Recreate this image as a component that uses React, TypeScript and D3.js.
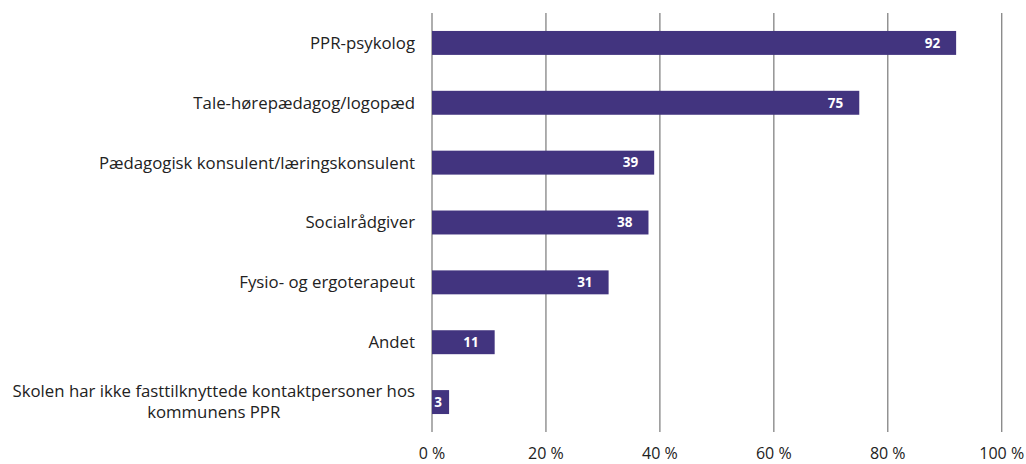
import React, { useEffect, useRef } from "react";
import * as d3 from "d3";

const categories: string[][] = [
  ["PPR-psykolog"],
  ["Tale-hørepædagog/logopæd"],
  ["Pædagogisk konsulent/læringskonsulent"],
  ["Socialrådgiver"],
  ["Fysio- og ergoterapeut"],
  ["Andet"],
  ["Skolen har ikke fasttilknyttede kontaktpersoner hos", "kommunens PPR"],
];
const values: number[] = [92, 75, 39, 38, 31, 11, 3];
const ticks: number[] = [0, 20, 40, 60, 80, 100];

const W = 1026;
const H = 464;
const FONT = "'Open Sans', sans-serif";

export default function App() {
  const ref = useRef<SVGSVGElement | null>(null);

  useEffect(() => {
    const svg = d3.select(ref.current);
    svg.selectAll("*").remove();

    const x = d3.scaleLinear().domain([0, 100]).range([432, 1001.7]);
    const y = d3
      .scaleBand<number>()
      .domain(d3.range(categories.length))
      .range([13, 432])
      .paddingInner(0.6)
      .paddingOuter(0.3);

    svg
      .append("g")
      .selectAll("line")
      .data(ticks)
      .join("line")
      .attr("x1", (d) => x(d))
      .attr("x2", (d) => x(d))
      .attr("y1", 13)
      .attr("y2", 432)
      .attr("stroke", "#8c8c8c")
      .attr("stroke-width", 1.4);

    svg
      .append("g")
      .selectAll("text")
      .data(ticks)
      .join("text")
      .attr("x", (d) => x(d))
      .attr("y", 459)
      .attr("text-anchor", "middle")
      .attr("font-family", FONT)
      .attr("font-size", 16)
      .attr("fill", "#222")
      .text((d) => `${d} %`);

    svg
      .append("g")
      .selectAll("rect")
      .data(values)
      .join("rect")
      .attr("x", x(0))
      .attr("y", (_, i) => y(i)!)
      .attr("width", (d) => x(d) - x(0))
      .attr("height", y.bandwidth())
      .attr("fill", "#42347f");

    svg
      .append("g")
      .selectAll("text")
      .data(values)
      .join("text")
      .attr("x", (d) => Math.max(x(d) - 16, x(0) + 10))
      .attr("y", (_, i) => y(i)! + y.bandwidth() / 2)
      .attr("dy", "0.35em")
      .attr("text-anchor", "end")
      .attr("font-family", FONT)
      .attr("font-size", 13.5)
      .attr("font-weight", "bold")
      .attr("fill", "#fff")
      .text((d) => d);

    const labelRight = 415;
    const gCat = svg.append("g");
    categories.forEach((lines, i) => {
      const cy = y(i)! + y.bandwidth() / 2;
      if (lines.length === 1) {
        gCat
          .append("text")
          .attr("x", labelRight)
          .attr("y", cy)
          .attr("dy", "0.35em")
          .attr("text-anchor", "end")
          .attr("font-family", FONT)
          .attr("font-size", 16.8)
          .attr("fill", "#222")
          .text(lines[0]);
      } else {
        const lh = 21;
        const texts = lines.map((l, k) =>
          gCat
            .append("text")
            .attr("y", cy + (k - (lines.length - 1) / 2) * lh)
            .attr("dy", "0.35em")
            .attr("text-anchor", "middle")
            .attr("font-family", FONT)
            .attr("font-size", 16.8)
            .attr("fill", "#222")
            .text(l)
        );
        let maxW = 0;
        texts.forEach((t) => {
          const n = t.node() as SVGTextElement;
          maxW = Math.max(maxW, n.getComputedTextLength());
        });
        texts.forEach((t) => t.attr("x", labelRight - maxW / 2));
      }
    });
  }, []);

  return (
    <svg
      ref={ref}
      width={W}
      height={H}
      style={{ position: "absolute", left: 0, top: 0, background: "#fff" }}
    />
  );
}
